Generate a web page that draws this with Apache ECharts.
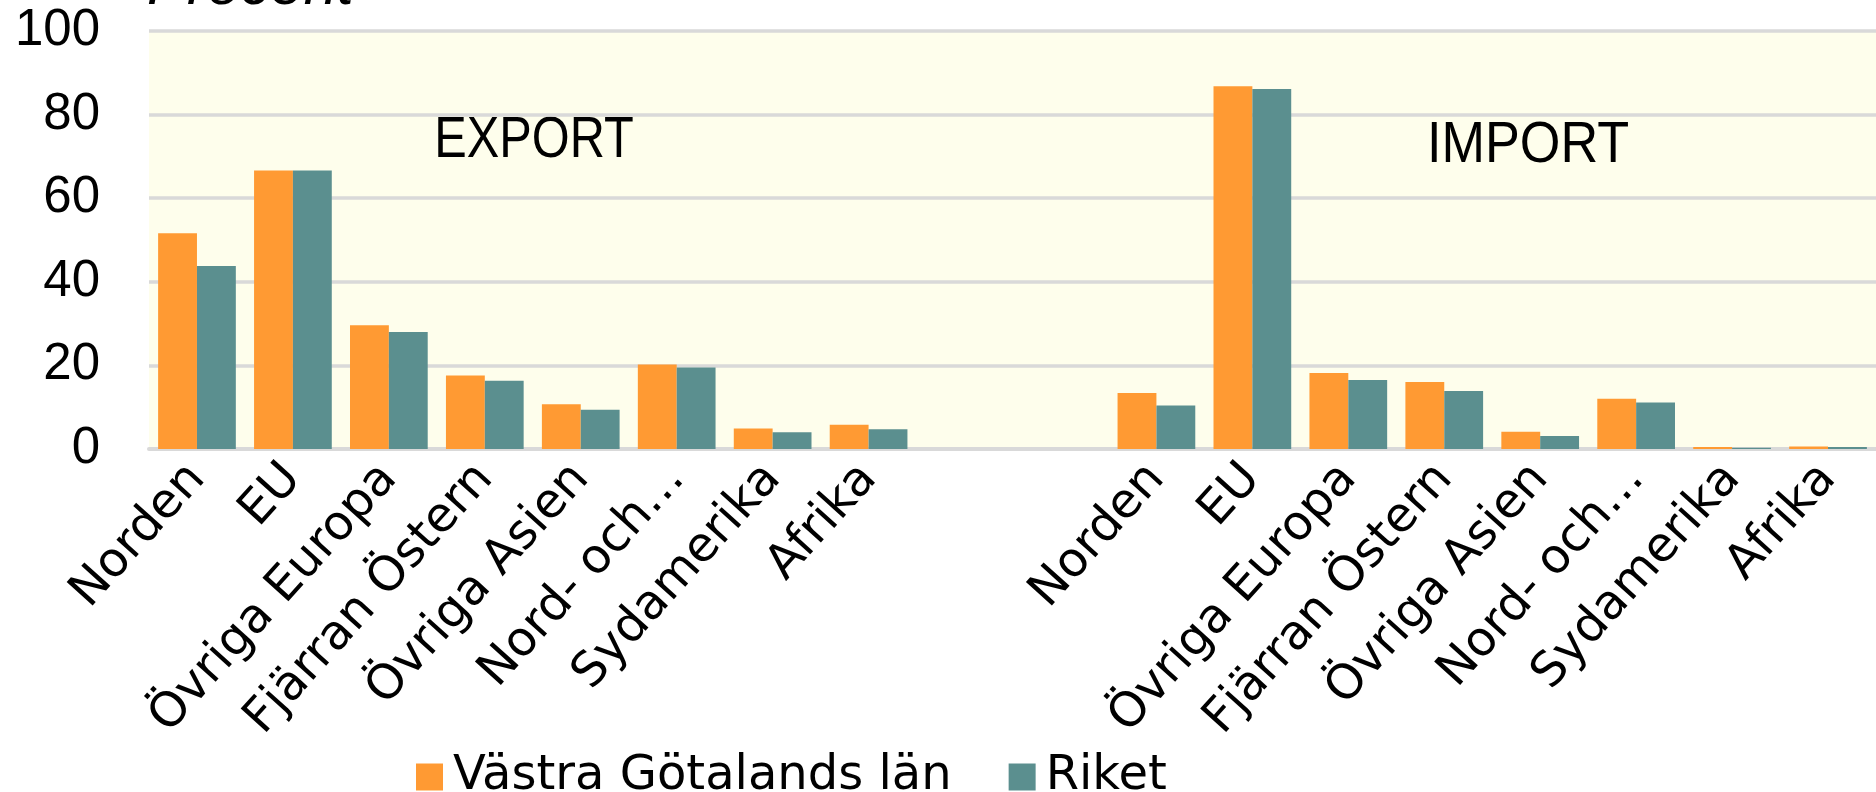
<!DOCTYPE html>
<html>
<head>
<meta charset="utf-8">
<script src="https://cdn.jsdelivr.net/npm/echarts@6/dist/echarts.min.js"></script>
<style>
    html, body { margin: 0; padding: 0; background: #fff; }
    #chart { width: 1876px; height: 792px; }
</style>
</head>
<body>
<div id="chart"></div>
<script>
    // regions, same order in both halves
    var regions = ['Norden', 'EU', 'Övriga Europa', 'Fjärran Östern', 'Övriga Asien', 'Nord- och…', 'Sydamerika', 'Afrika'];
    var gapCats = ['', ''];

    // export, percent
    var exportVG = [51.6, 66.6, 29.6, 17.6, 10.7, 20.2, 4.9, 5.8];
    var exportRiket = [43.8, 66.6, 28.0, 16.3, 9.4, 19.5, 4.0, 4.7];

    // import, percent
    var importVG = [13.4, 86.8, 18.2, 16.0, 4.1, 12.0, 0.5, 0.6];
    var importRiket = [10.4, 86.1, 16.5, 13.9, 3.1, 11.1, 0.3, 0.5];

    var gapVals = [null, null];
    var seriesNames = ['Västra Götalands län', 'Riket'];
    var yMin = 0, yMax = 100, yStep = 20;

    var labelFont = 'DejaVu Sans';

    var chart = echarts.init(document.getElementById('chart'));

    var option = {
        animation: false,
        color: ['#FF9A33', '#5B8F8F'],
        grid: {
            left: 149,
            right: 0,
            top: 31,
            bottom: 343,
            show: true,
            backgroundColor: '#FEFEEC',
            borderWidth: 0
        },
        legend: {
            left: 411,
            top: 748,
            icon: 'rect',
            itemWidth: 27,
            itemHeight: 27,
            itemGap: 57,
            textStyle: {
                fontFamily: labelFont,
                fontSize: 48,
                color: '#000',
                padding: [0, 0, 0, 5]
            },
            data: seriesNames
        },
        xAxis: {
            type: 'category',
            data: regions.concat(gapCats, regions),
            axisLine: { lineStyle: { color: '#D9D9D9', width: 4 } },
            axisTick: { show: false },
            axisLabel: {
                interval: 0,
                rotate: 48,
                margin: 22,
                fontFamily: labelFont,
                fontSize: 48,
                color: '#000'
            }
        },
        yAxis: {
            type: 'value',
            min: yMin,
            max: yMax,
            interval: yStep,
            axisLine: { show: false },
            axisTick: { show: false },
            axisLabel: {
                margin: 49,
                fontFamily: 'Liberation Sans',
                fontSize: 51,
                color: '#000'
            },
            splitLine: { lineStyle: { color: '#D9D9D9', width: 3.5 } }
        },
        graphic: [
            {
                type: 'text', x: 147, y: -13,
                style: { text: 'Procent', fontFamily: 'Liberation Sans', fontStyle: 'italic', fontSize: 60, fill: '#000', align: 'left', verticalAlign: 'middle' }
            },
            {
                type: 'text', x: 534, y: 141, scaleX: 0.84,
                style: { text: 'EXPORT', fontFamily: 'Liberation Sans', fontSize: 58, fill: '#000', align: 'center', verticalAlign: 'middle' }
            },
            {
                type: 'text', x: 1528, y: 146, scaleX: 0.9,
                style: { text: 'IMPORT', fontFamily: 'Liberation Sans', fontSize: 58, fill: '#000', align: 'center', verticalAlign: 'middle' }
            }
        ],
        series: [
            {
                name: seriesNames[0],
                type: 'bar',
                barGap: 0,
                barCategoryGap: '19%',
                data: exportVG.concat(gapVals, importVG)
            },
            {
                name: seriesNames[1],
                type: 'bar',
                barGap: 0,
                barCategoryGap: '19%',
                data: exportRiket.concat(gapVals, importRiket)
            }
        ]
    };

    chart.setOption(option);
</script>
</body>
</html>
